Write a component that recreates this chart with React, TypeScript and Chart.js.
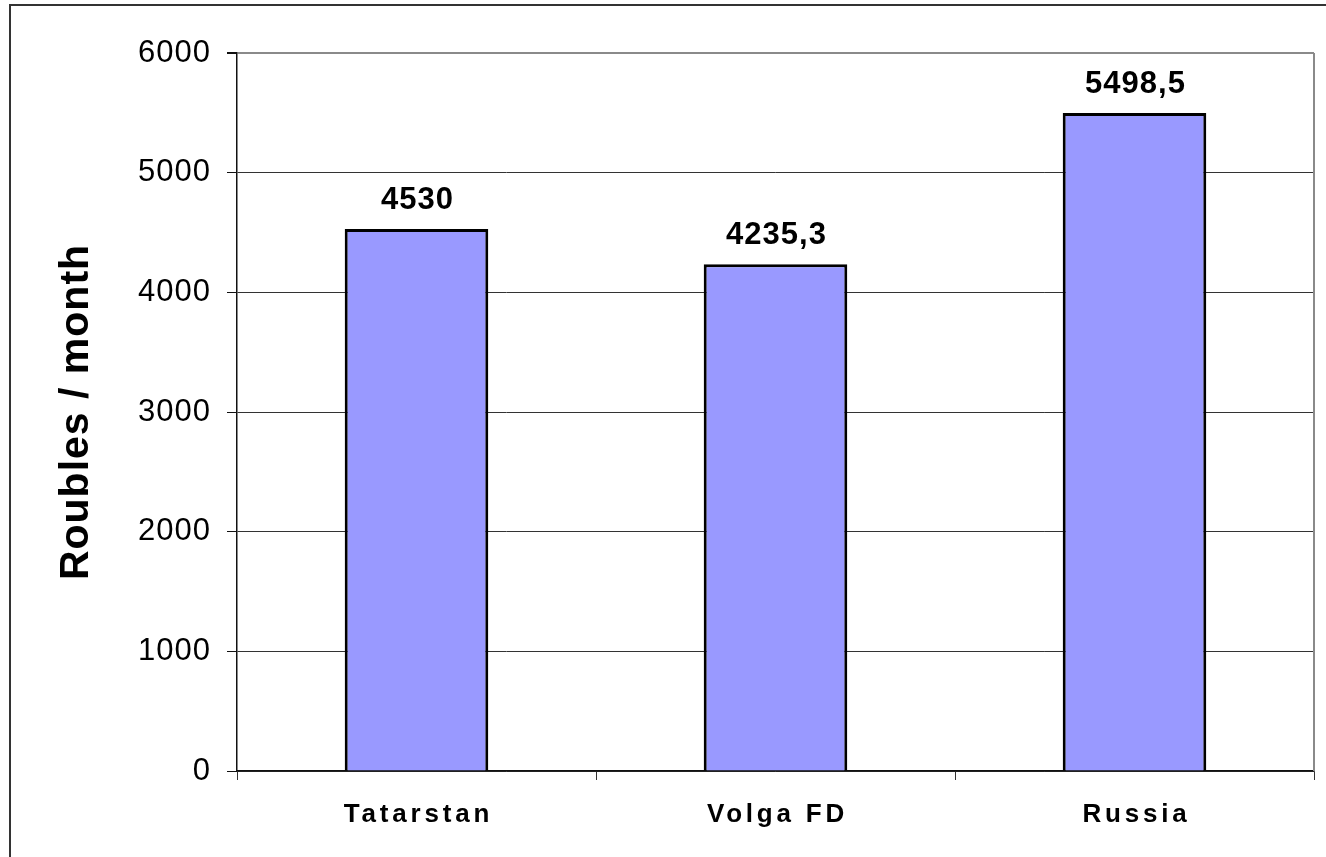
import React, { useEffect, useRef } from "react";
import { Chart, registerables } from "chart.js";

Chart.register(...registerables);

const categories = ["Tatarstan", "Volga FD", "Russia"];
const values = [4530, 4235.3, 5498.5];
const valueLabels = ["4530", "4235,3", "5498,5"];
const yTicks = [0, 1000, 2000, 3000, 4000, 5000, 6000];
const yTitle = "Roubles / month";

const FONT = "'Liberation Sans', Arial, Helvetica, sans-serif";

const spacingPlugin = {
  id: "spacing",
  beforeDraw(chart: any) {
    (chart.ctx as any).letterSpacing = "1px";
  },
};

const frameAndLabels = {
  id: "frameAndLabels",
  afterDatasetsDraw(chart: any) {
    const { ctx, chartArea } = chart;
    ctx.save();
    ctx.strokeStyle = "#8a8a8a";
    ctx.lineWidth = 2;
    ctx.beginPath();
    ctx.moveTo(chartArea.right, chartArea.top);
    ctx.lineTo(chartArea.right, chartArea.bottom);
    ctx.stroke();

    const meta = chart.getDatasetMeta(0);
    ctx.font = `bold 31px ${FONT}`;
    (ctx as any).letterSpacing = "1px";
    ctx.fillStyle = "#000";
    ctx.textAlign = "center";
    ctx.textBaseline = "alphabetic";
    meta.data.forEach((bar: any, i: number) => {
      ctx.fillText(valueLabels[i], bar.x + 1, bar.y - 20);
    });

    const xs = chart.scales.x;
    ctx.font = `bold 26px ${FONT}`;
    (ctx as any).letterSpacing = "3.8px";
    categories.forEach((c, i) => {
      ctx.fillText(c, xs.getPixelForValue(i) + 2, chartArea.bottom + 51);
    });
    ctx.restore();
  },
};

export default function App() {
  const ref = useRef<HTMLCanvasElement | null>(null);

  useEffect(() => {
    if (!ref.current) return;
    const chart = new Chart(ref.current, {
      type: "bar",
      data: {
        labels: categories,
        datasets: [
          {
            data: values,
            backgroundColor: "#9999FF",
            borderColor: "#000",
            borderWidth: 3,
            barPercentage: 0.4,
            categoryPercentage: 1,
          },
        ],
      },
      options: {
        responsive: false,
        animation: false,
        devicePixelRatio: 1,
        layout: { padding: { top: 53, right: 12, left: 0, bottom: 0 } },
        plugins: {
          legend: { display: false },
          tooltip: { enabled: false },
          title: { display: false },
        },
        scales: {
          x: {
            afterFit(scale: any) {
              scale.height = 86;
            },
            grid: {
              display: true,
              drawOnChartArea: false,
              drawTicks: true,
              tickLength: 9,
              color: "#333",
              offset: true,
            },
            border: { display: true, color: "#111", width: 1.5 },
            ticks: { display: false },
          },
          y: {
            min: 0,
            max: 6000,
            afterFit(scale: any) {
              scale.width = 237;
            },
            afterBuildTicks(scale: any) {
              scale.ticks = yTicks.map((v) => ({ value: v }));
            },
            grid: {
              color: (c: any) => (c.tick && c.tick.value === 6000 ? "#8a8a8a" : "#333"),
              lineWidth: (c: any) => (c.tick && c.tick.value === 6000 ? 2 : 1),
              tickColor: "#111",
              tickLength: 10,
              drawTicks: true,
            },
            border: { display: true, color: "#111", width: 1.5 },
            ticks: {
              color: "#000",
              font: { family: FONT, size: 31 },
              padding: 16,
              callback: (v: any) => String(v),
            },
            title: {
              display: true,
              text: yTitle,
              color: "#000",
              font: { family: FONT, size: 41, weight: "bold" },
              padding: { top: 52, bottom: 0 },
            },
          },
        },
      },
      plugins: [spacingPlugin, frameAndLabels],
    });
    return () => chart.destroy();
  }, []);

  return (
    <div
      style={{
        position: "absolute",
        left: 0,
        top: 0,
        width: 1326,
        height: 857,
        overflow: "hidden",
        background: "#fff",
      }}
    >
      <canvas ref={ref} width={1326} height={857} style={{ display: "block" }} />
      <div
        style={{
          position: "absolute",
          left: 9,
          top: 4,
          right: -10,
          bottom: -10,
          borderTop: "2px solid #333",
          borderLeft: "2px solid #333",
          pointerEvents: "none",
        }}
      />
    </div>
  );
}
